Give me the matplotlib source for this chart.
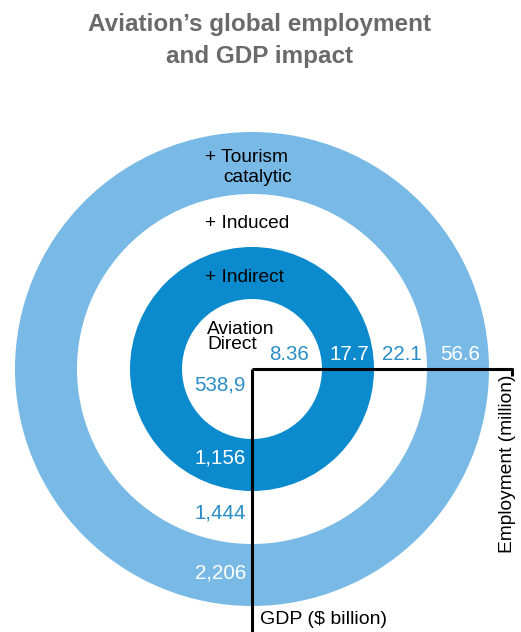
import matplotlib.pyplot as plt
from matplotlib.patches import Circle

# 数据
title_lines = ["Aviation\u2019s global employment", "and GDP impact"]
layers = ["Aviation\nDirect", "+ Indirect", "+ Induced", "+ Tourism"]
employment = ["8.36", "17.7", "22.1", "56.6"]
gdp = ["538,9", "1,156", "1,444", "2,206"]

# 样式
light_blue = "#79b9e6"
mid_blue = "#0b8acd"
text_blue = "#2a8dc8"
ring_fill = ["white", mid_blue, "white", light_blue]
num_color = [text_blue, "white", text_blue, "white"]
radii = [70, 122, 175, 237]
cx, cy = 252, 369

plt.rcParams["font.family"] = ["Liberation Sans", "DejaVu Sans"]

fig = plt.figure(figsize=(5.21, 6.32), dpi=100)
ax = fig.add_axes([0, 0, 1, 1])
ax.set_xlim(0, 521)
ax.set_ylim(632, 0)
ax.axis("off")

# 同心圆 (从外到内)
for r, c in reversed(list(zip(radii, ring_fill))):
    ax.add_patch(Circle((cx, cy), r, facecolor=c, edgecolor="none", zorder=1))

# 标题
ax.text(260, 24, title_lines[0], ha="center", va="center", fontsize=17.5,
        fontweight="bold", color="#6a6a6a")
ax.text(260, 56, title_lines[1], ha="center", va="center", fontsize=17.5,
        fontweight="bold", color="#6a6a6a")

# 层名称
fs = 13.8
ax.text(205, 158, layers[3], ha="left", va="center", fontsize=fs, color="black")
ax.text(223, 177, "catalytic", ha="left", va="center", fontsize=fs, color="black")
ax.text(205, 223, layers[2], ha="left", va="center", fontsize=fs, color="black")
ax.text(205, 278, layers[1], ha="left", va="center", fontsize=fs, color="black")
ax.text(207, 337, layers[0], ha="left", va="center", fontsize=fs, color="black",
        linespacing=0.92)

# 就业人数
emp_x = [289, 349, 402, 460]
for x, v, c in zip(emp_x, employment, num_color):
    ax.text(x, 355, v, ha="center", va="center", fontsize=14.8, color=c, zorder=3)

# GDP
gdp_y = [385, 458, 513, 573]
for y, v, c in zip(gdp_y, gdp, num_color):
    ax.text(246, y, v, ha="right", va="center", fontsize=14.8, color=c, zorder=3)

# 坐标线
ax.plot([cx, 512, 512], [cy, cy, 376], color="black", lw=2.2, zorder=4,
        solid_capstyle="butt")
ax.plot([cx, cx], [cy, 632], color="black", lw=2.2, zorder=4,
        solid_capstyle="butt")

ax.text(260, 620, "GDP ($ billion)", ha="left", va="center", fontsize=14,
        color="black")
ax.text(507, 464, "Employment (million)", ha="center", va="center",
        fontsize=13.8, rotation=90, color="black")

fig.savefig("out.png", dpi=100)
